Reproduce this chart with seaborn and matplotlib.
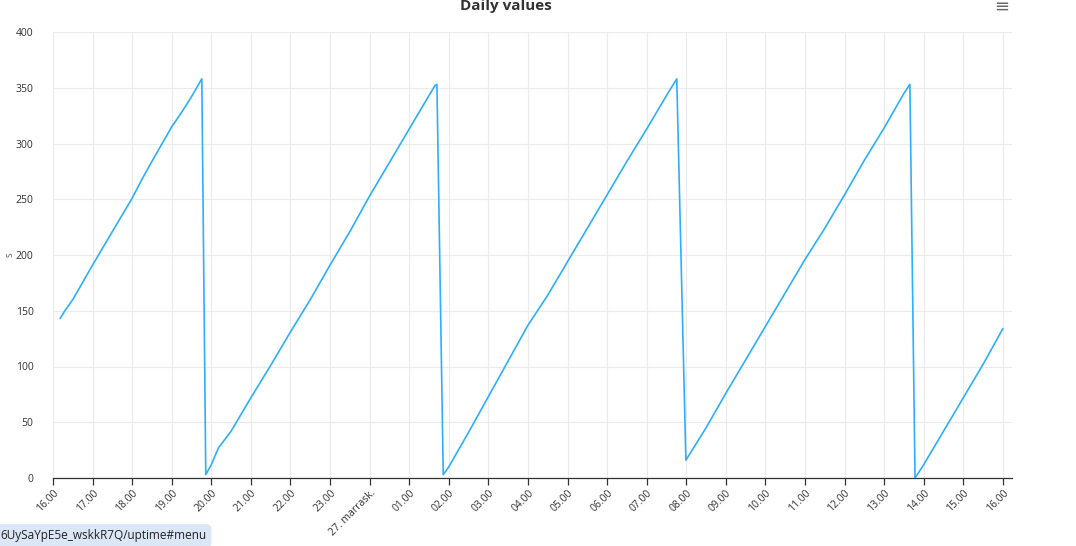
import numpy as np
import pandas as pd
import seaborn as sns
import matplotlib.pyplot as plt
import matplotlib.dates as mdates
from matplotlib.ticker import FuncFormatter

# hours since 26.11. 00:00
horas = [16.18, 16.3, 16.5, 17.0, 17.5, 18.0, 18.25, 18.5, 19.0, 19.25, 19.5, 19.76, 19.86,
         20.0, 20.18, 20.5, 21.0, 21.5, 22.0, 22.5, 23.0, 23.5, 24.0, 24.5, 25.0, 25.5, 25.65, 25.70, 25.86,
         26.0, 26.5, 27.0, 27.5, 28.0, 28.5, 29.0, 29.5, 30.0, 30.5, 31.0, 31.5, 31.76, 31.99,
         32.5, 33.0, 33.5, 34.0, 34.5, 35.0, 35.5, 36.0, 36.5, 37.0, 37.5, 37.65, 37.78,
         38.0, 38.5, 39.0, 39.5, 40.0]
valores = [143, 150, 160, 191, 221, 251, 268, 284, 315, 328, 342, 358, 3,
           12, 27, 42, 72, 101, 131, 160, 191, 221, 253, 283, 313, 343, 352, 353, 3,
           10, 41, 73, 105, 137, 164, 194, 224, 254, 284, 313, 343, 358, 16,
           45, 76, 106, 136, 166, 196, 224, 254, 285, 314, 345, 353, 0,
           12, 42, 72, 102, 134]
yticks = [0, 50, 100, 150, 200, 250, 300, 350, 400]

base = pd.Timestamp("2023-11-26 00:00")
df = pd.DataFrame({'Tempo': base + pd.to_timedelta(horas, unit='h'), 'Valor': valores})

sns.set_theme(style="white")
plt.rcParams['font.family'] = ['Open Sans', 'DejaVu Sans']

fig = plt.figure(figsize=(10.76, 5.46), dpi=100)
ax = fig.add_axes([53/1076, 1 - 478/546, 959/1076, 446/546])

sns.lineplot(data=df, x='Tempo', y='Valor', color='#2caffe', linewidth=1.2, ax=ax)

ax.set_ylim(0, 400)
ax.set_yticks(yticks)
ax.set_xlim(base + pd.Timedelta(hours=16), base + pd.Timedelta(hours=40.23))
ax.xaxis.set_major_locator(mdates.HourLocator(interval=1))

def rotulo(x, pos):
    d = mdates.num2date(x)
    if d.hour == 0:
        return "27. marrask."
    return d.strftime("%H.%M")

ax.xaxis.set_major_formatter(FuncFormatter(rotulo))

ax.grid(True, color='#ebebeb', linewidth=0.8)
for s in ['left', 'top', 'right']:
    ax.spines[s].set_visible(False)
ax.spines['bottom'].set_color('#333333')
ax.spines['bottom'].set_linewidth(0.9)

ax.tick_params(axis='x', bottom=True, length=5, width=0.9, color='#333333',
               labelsize=7.5, labelcolor='#333333', pad=2)
ax.tick_params(axis='y', left=False, length=0, labelsize=7.5, labelcolor='#333333', pad=14)
plt.setp(ax.get_xticklabels(), rotation=45, ha='right', rotation_mode='anchor')

ax.set_xlabel('')
ax.set_ylabel('s', fontsize=7, color='#666666')
ax.yaxis.set_label_coords(-0.039, 0.5)

fig.text(506/1076, 1 - 10/546, 'Daily values', ha='center', va='baseline',
         fontsize=11, fontweight='bold', color='#333333')
fig.text(1002/1076, 1 - 7/546, '≡', ha='center', va='center', fontsize=13, color='#666666')
fig.text(0.0, 10/546, '6UySaYpE5e_wskkR7Q/uptime#menu', ha='left', va='center',
         fontsize=8.5, color='#222222',
         bbox=dict(boxstyle='round,pad=0.45', fc='#dbe6f7', ec='none'))

plt.savefig("out.png", format='png', dpi=100)
